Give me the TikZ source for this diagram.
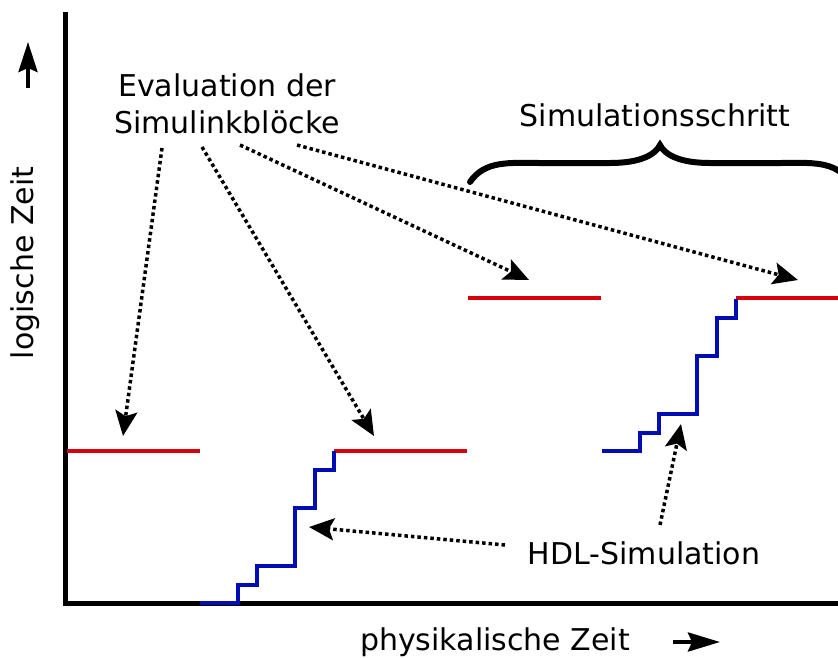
\documentclass[tikz,border=0pt]{standalone}
\usepackage{fontspec}
\setmainfont{DejaVu Sans}
\usetikzlibrary{arrows.meta}
\definecolor{evalred}{rgb}{0.85,0.00,0.05}
\definecolor{hdlblue}{rgb}{0.00,0.05,0.70}
\tikzstyle{axis}=[line width=5pt]
\tikzstyle{evalline}=[draw=evalred, line width=3.5pt]
\tikzstyle{hdlline}=[draw=hdlblue, line width=3.5pt, line join=miter]
\tikzstyle{pointer}=[line width=3.5pt, dash pattern=on 3.5pt off 3pt, -{Stealth[length=25pt,width=22pt,inset=5pt]}]
\tikzstyle{label}=[font=\fontsize{30}{37}\selectfont, inner sep=0pt]
\newcommand{\evalline}[3]{
	\draw[evalline] (#1,#3) -- (#2,#3);}
\newcommand{\hdlsteps}[2]{
	\draw[hdlline, shift={(#1,#2)}] (200,603) -- (238,603) -- (238,585) -- (257,585) -- (257,566)
		-- (295,566) -- (295,508) -- (315,508) -- (315,470) -- (334,470) -- (334,451);}

\begin{document}
\begin{tikzpicture}[x=1pt, y=-1pt]
	\useasboundingbox (0,0) rectangle (838,657);
	\clip (0,0) rectangle (838,657);
	
	% axes
	\draw[axis] (65,12) -- (65,603) -- (840,603);
	\draw[line width=4pt, -{Stealth[length=30pt,width=19pt,inset=4pt]}] (28,88) -- (28,42);
	\draw[line width=4pt, -{Stealth[length=32pt,width=19pt,inset=4pt]}] (673,642) -- (720,642);
	\node[label, rotate=90] (logzeit) at (25,263) {logische Zeit};
	\node[label, anchor=base] (physzeit) at (495,650) {physikalische Zeit};
	
	% block evaluations and HDL steps
	\evalline{67}{200}{451}
	\evalline{334}{467}{451}
	\evalline{468}{601}{298}
	\evalline{736}{840}{298}
	\hdlsteps{0}{0}
	\hdlsteps{402}{-152}
	
	% labels
	\node[label, align=center, anchor=north] (eval) at (227,74) {Evaluation der\\Simulinkblöcke};
	\node[label, anchor=base] (schritt) at (655,126) {Simulationsschritt};
	\node[label, anchor=base] (hdl) at (644,564) {HDL-Simulation};
	
	% brace over one step
	\draw[line width=6pt, line cap=round] (470,182) .. controls (485,160) and (510,163) .. (540,163) -- (610,163)
		.. controls (640,163) and (655,155) .. (660,145) .. controls (665,155) and (680,163) .. (710,163)
		-- (780,163) .. controls (810,163) and (835,160) .. (850,182);
	
	\coordinate (e1) at (162,148);
	\coordinate (e2) at (202,147);
	\coordinate (e3) at (240,145);
	\coordinate (e4) at (297,145);
	\coordinate (t1) at (123,436);
	\coordinate (t2) at (374,436);
	\coordinate (t3) at (529,280);
	\coordinate (t4) at (798,280);
	\coordinate (h1) at (505,545);
	\coordinate (h2) at (660,525);
	\coordinate (s1) at (309,527);
	\coordinate (s2) at (681,424);
	
	\draw[pointer] (e1) -- (t1);
	\draw[pointer] (e2) -- (t2);
	\draw[pointer] (e3) -- (t3);
	\draw[pointer] (e4) -- (t4);
	\draw[pointer] (h1) -- (s1);
	\draw[pointer] (h2) -- (s2);
\end{tikzpicture}
\end{document}
